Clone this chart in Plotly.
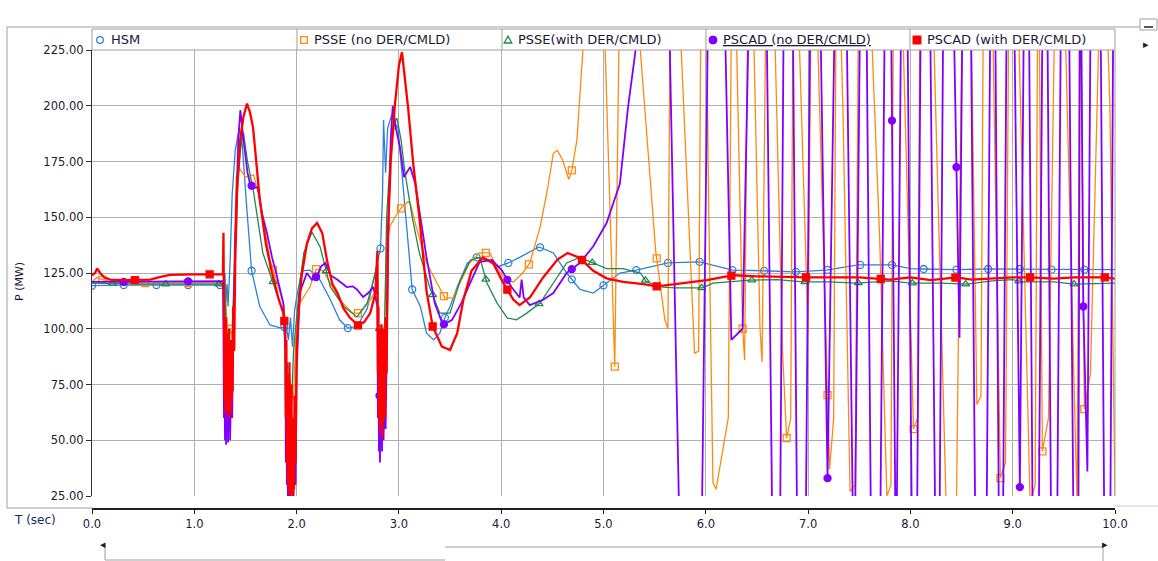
import numpy as np
import plotly.graph_objects as go

# ---------------- data ----------------
hsm_t = [0.0, 0.3, 1.0, 1.28, 1.29, 1.3, 1.31, 1.32, 1.33, 1.35, 1.37, 1.4, 1.44, 1.47, 1.51, 1.56,
         1.64, 1.74, 1.84, 1.9, 1.92, 1.94, 1.96, 1.98, 2.0, 2.05, 2.13, 2.23, 2.33, 2.42, 2.5, 2.59,
         2.69, 2.77, 2.82, 2.84, 2.85, 2.87, 2.89, 2.93, 2.96, 2.99, 3.03, 3.06, 3.13, 3.21, 3.27,
         3.34, 3.4, 3.45, 3.5, 3.57, 3.67, 3.76, 3.86, 3.96, 4.07, 4.18, 4.37, 4.51, 4.64, 4.77, 4.9,
         5.03, 5.16, 5.32, 5.63, 5.94, 6.1, 6.26, 6.56, 6.87, 7.18, 7.35, 7.49, 7.82, 8.0, 8.13, 8.44,
         8.75, 9.07, 9.38, 9.7, 10.0]
hsm_p = [119.3, 119.6, 119.6, 119.6, 115, 125, 112, 120, 110, 130, 160, 180, 190, 182, 156, 126,
         110, 101.7, 100.4, 101, 95, 105, 92, 108, 113.8, 126, 126.3, 121.8, 113, 104, 100.3, 101,
         109, 125, 136, 160, 193.6, 170, 190, 196, 192, 190.5, 170, 153, 117.6, 110, 98,
         95, 98, 105, 110, 118.7, 129.5, 132, 130.8, 127.7, 129.5, 132, 136.7, 134, 125, 117.6, 116,
         120.5, 125, 126.3, 129.5, 130, 128, 126.3, 126, 125.5, 126.3, 127.5, 128.6, 128.6, 127, 126.8, 126.5,
         126.8, 126.8, 126.5, 126.5, 126.5]

psse_no_t = [0.0, 0.05, 0.1, 0.2, 0.5, 1.0, 1.3, 1.31, 1.33, 1.35, 1.37, 1.39, 1.41, 1.44, 1.5, 1.58,
             1.64, 1.74, 1.84, 1.88, 1.9, 1.92, 1.94, 1.97, 1.99, 2.03, 2.13, 2.19, 2.26, 2.33, 2.42,
             2.55, 2.62, 2.72, 2.78, 2.8, 2.83, 2.86, 2.88, 2.91, 2.96, 3.03, 3.09, 3.11, 3.17, 3.27,
             3.37, 3.45, 3.53, 3.61, 3.69, 3.79, 3.89, 3.97, 4.05, 4.12, 4.21, 4.28, 4.38, 4.45, 4.51,
             4.55, 4.6, 4.66, 4.69, 4.74, 4.77, 4.8, 4.88, 4.98, 5.11, 5.16, 5.2, 5.28, 5.36, 5.51,
             5.6, 5.63, 5.66, 5.72, 5.76, 5.89, 5.93, 5.96, 6.0, 6.03, 6.07, 6.1, 6.22, 6.26, 6.3,
             6.36, 6.38, 6.42, 6.46, 6.53, 6.55, 6.6, 6.66, 6.75, 6.79, 6.83, 6.86, 6.92, 7.0, 7.04,
             7.1, 7.21, 7.25, 7.28, 7.34, 7.41, 7.46, 7.5, 7.58, 7.7, 7.77, 7.81, 7.84, 7.9, 8.03,
             8.07, 8.1, 8.2, 8.3, 8.35, 8.45, 8.52, 8.58, 8.65, 8.69, 8.72, 8.8, 8.88, 8.93, 8.97,
             9.05, 9.17, 9.22, 9.25, 9.29, 9.35, 9.43, 9.5, 9.63, 9.66, 9.7, 9.76,
             9.88, 9.95, 10.0]
psse_no_p = [121, 123, 122, 121, 120.5, 120.5, 120.5, 110, 96, 100, 96, 130, 168, 172, 168, 169,
             158, 130.8, 116, 110, 85, 67, 75, 68, 95, 111.5, 118.7, 126.7, 126, 120.5, 113,
             107, 107, 113, 117.6, 100, 95, 102, 135, 145.6, 150, 154.6, 157, 156.4, 145.6, 129.5,
             120.5, 113.8, 114, 121.8, 129.5, 134, 134, 126.3, 121.8, 121, 125, 129.5, 145.6, 162, 178.8,
             180, 175.7, 167, 171, 184.6, 207, 225, 280, 280, 83, 260, 300, 260, 225, 135,
             104, 100, 300, 300, 225, 89, 90, 300, 260, 150, 31, 28, 60, 300, 230,
             100, 86, 300, 250, 100, 85, 300, 260, 90, 51, 60, 300, 220, 98, 300,
             220, 37, 60, 300, 200, 27, 30, 300, 280, 140, 25, 30, 300, 280, 55,
             60, 300, 280, 100, 20, 20, 300, 280, 66, 70, 300, 250, 33, 40, 300,
             250, 22, 30, 300, 45, 60, 300, 260, 20, 300, 64, 80,
             300, 200, 25]

psse_with_t = [0.0, 0.5, 1.0, 1.3, 1.31, 1.32, 1.33, 1.34, 1.35, 1.36, 1.37, 1.39, 1.42, 1.45, 1.48,
               1.52, 1.58, 1.67, 1.77, 1.87, 1.89, 1.9, 1.91, 1.92, 1.93, 1.95, 1.97, 1.99, 2.03, 2.07,
               2.15, 2.23, 2.33, 2.46, 2.59, 2.69, 2.77, 2.79, 2.8, 2.81, 2.82, 2.83, 2.84, 2.86, 2.88,
               2.92, 2.96, 2.98, 3.02, 3.06, 3.13, 3.2, 3.3, 3.4, 3.5, 3.6, 3.7, 3.79, 3.86, 3.96, 4.06,
               4.15, 4.25, 4.38, 4.51, 4.64, 4.77, 4.9, 5.03, 5.19, 5.36, 5.42, 5.58, 5.7, 5.97, 6.07,
               6.43, 6.7, 6.95, 7.2, 7.48, 7.8, 8.0, 8.3, 8.55, 8.8, 9.0, 9.1, 9.4, 9.61, 9.9, 10.0]
psse_with_p = [120.5, 120, 120, 120, 100, 80, 95, 75, 90, 78, 95, 120, 160, 180, 188,
               175, 161, 134, 121, 107, 90, 70, 85, 63, 80, 65, 90, 100, 120, 134,
               143.4, 136.7, 118.7, 110, 105.3, 111.5, 125, 130, 85, 100, 70, 95, 75, 100, 150,
               180, 193, 194.5, 185, 169.8, 150, 134, 118.7, 107, 107, 121.8, 130.8, 132, 120.5, 111.5, 104.8,
               104, 107, 111.5, 120.5, 129.5, 132, 129.5, 127, 127, 125, 121, 118.7, 118.3, 118.3, 120.5,
               121.8, 122, 121, 121, 120.5, 121.5, 120.5, 120.5, 120, 121.5, 122, 121, 121, 120, 120.5, 120.5]

pscad_no_t = [0.0, 0.5, 1.0, 1.28, 1.285, 1.29, 1.295, 1.3, 1.305, 1.31, 1.315, 1.32, 1.325, 1.33,
              1.335, 1.34, 1.345, 1.35, 1.36, 1.37, 1.38, 1.4, 1.43, 1.45, 1.48, 1.52, 1.545, 1.58,
              1.62, 1.66, 1.71, 1.76, 1.8, 1.87, 1.89, 1.895, 1.9, 1.905, 1.91, 1.915, 1.92, 1.925,
              1.93, 1.935, 1.94, 1.945, 1.95, 1.955, 1.96, 1.97, 1.98, 1.99, 2.0, 2.03, 2.1, 2.15, 2.2,
              2.24, 2.28, 2.33, 2.4, 2.45, 2.49, 2.55, 2.59, 2.65, 2.7, 2.75, 2.79, 2.795, 2.8, 2.805,
              2.81, 2.815, 2.82, 2.825, 2.83, 2.835, 2.84, 2.85, 2.86, 2.87, 2.88, 2.9, 2.92, 2.94, 2.97,
              3.01, 3.05, 3.08, 3.11, 3.16, 3.21, 3.27, 3.35, 3.43, 3.52, 3.61, 3.71, 3.79, 3.91, 4.01,
              4.1, 4.18, 4.2, 4.22, 4.28, 4.41, 4.51, 4.64, 4.77, 4.9, 5.03, 5.16, 5.24, 5.31, 5.45,
              5.62, 5.76, 5.95, 6.04, 6.16, 6.25, 6.36, 6.45, 6.58, 6.66, 6.72, 6.77, 6.84, 6.9, 6.97,
              7.03, 7.1, 7.19, 7.28, 7.36, 7.45, 7.52, 7.56, 7.62, 7.7, 7.76, 7.8, 7.86, 7.92, 7.96,
              8.02, 8.06, 8.11, 8.18, 8.25, 8.28, 8.33, 8.4, 8.48, 8.52, 8.58, 8.64, 8.74, 8.79, 8.82,
              8.87, 8.9, 8.95, 9.0, 9.07, 9.12, 9.15, 9.2, 9.25, 9.3, 9.33, 9.38, 9.43, 9.48, 9.54,
              9.6, 9.64, 9.66, 9.69, 9.73, 9.77, 9.85, 9.9, 9.95, 9.99, 10.0]
pscad_no_p = [121, 121, 121.3, 121.3, 100, 60, 80, 50, 75, 48, 70, 52, 78, 49,
              72, 55, 80, 50, 75, 60, 95, 140, 185, 198, 185, 170, 165, 163,
              163.5, 152, 143, 132, 125, 111.5, 90, 40, 70, 30, 55, 25, 45, 22,
              40, 20, 35, 22, 40, 20, 30, 24, 45, 30, 80, 116, 125, 122, 123.5,
              128, 129.5, 124, 122, 120, 118.7, 119, 117.6, 114.2, 116, 118.7, 110, 60, 80, 45,
              70, 40, 65, 48, 75, 45, 70, 50, 77, 55, 90, 150, 185, 200, 190,
              181.5, 168, 170, 172.6, 165, 150, 132, 111.5, 101.7, 104, 111.5, 121.9, 130, 130.8, 126,
              118.7, 114, 122, 114, 110.6, 113, 116, 125, 129.5, 137, 147.4, 165, 199.4, 223.6, 300,
              290, -30, -30, 310, 300, 95, 100, 310, 300, -30, -30, 300, 300, -30, -30,
              300, 300, 33, 300, 300, -30, 300, 300, -20, -20, 300, 300, -20, 300, 300,
              -20, -20, 300, 300, -20, -20, 300, 300, 96, 300, 300, -20, -20, 300, 300,
              -20, -20, 300, 300, 29, 300, 300, -20, -20, 300, 300, -20, -20, 300, 300,
              -20, -20, 300, 110, 36, 300, 300, -20, -20, 300, 300]

pscad_with_t = [0.0, 0.03, 0.05, 0.08, 0.12, 0.18, 0.3, 0.45, 0.57, 0.65, 0.76, 1.0, 1.28, 1.285,
                1.29, 1.295, 1.3, 1.305, 1.31, 1.315, 1.32, 1.325, 1.33, 1.335, 1.34, 1.345, 1.35,
                1.355, 1.36, 1.365, 1.37, 1.375, 1.38, 1.39, 1.4, 1.42, 1.45, 1.48, 1.515, 1.545, 1.575,
                1.61, 1.64, 1.7, 1.76, 1.82, 1.87, 1.89, 1.895, 1.9, 1.905, 1.91, 1.915, 1.92, 1.925,
                1.93, 1.935, 1.94, 1.945, 1.95, 1.955, 1.96, 1.965, 1.97, 1.975, 1.98, 1.99, 2.0, 2.02,
                2.05, 2.1, 2.15, 2.2, 2.25, 2.3, 2.35, 2.4, 2.46, 2.52, 2.6, 2.66, 2.72, 2.77, 2.79,
                2.795, 2.8, 2.805, 2.81, 2.815, 2.82, 2.825, 2.83, 2.835, 2.84, 2.845, 2.85, 2.855, 2.86,
                2.865, 2.87, 2.88, 2.89, 2.92, 2.96, 3.0, 3.03, 3.06, 3.09, 3.14, 3.2, 3.27, 3.33, 3.42,
                3.5, 3.57, 3.63, 3.71, 3.82, 3.92, 4.02, 4.12, 4.18, 4.28, 4.41, 4.55, 4.65, 4.77, 4.9,
                5.03, 5.19, 5.39, 5.52, 5.7, 6.01, 6.27, 6.5, 6.99, 7.3, 7.5, 7.8, 8.0, 8.2, 8.45, 8.6,
                8.8, 9.0, 9.17, 9.4, 9.6, 9.9, 10.0]
pscad_with_p = [124, 125, 127, 125, 123, 122, 121.8, 121.8, 122, 123, 124.2, 124.4, 124.4, 143,
                100, 70, 95, 62, 105, 75, 98, 65, 90, 60, 100, 70, 95,
                62, 85, 68, 95, 72, 110, 90, 130, 165, 185, 195, 201, 197, 190,
                172, 158, 138, 125, 114, 107, 100, 60, 95, 40, 80, 30, 70, 26,
                85, 35, 65, 25, 75, 30, 60, 25, 55, 28, 70, 40, 90, 108,
                124, 138, 145, 147.4, 143, 130, 120, 116, 109, 105, 101.5, 103, 107, 116, 135,
                80, 110, 60, 100, 55, 95, 60, 102, 51, 90, 58, 100, 65, 95,
                60, 105, 80, 140, 175, 200, 218, 224, 212, 199, 174, 150, 117, 101, 92,
                90.5, 98, 113, 126, 132, 129.5, 120.5, 113, 110.6, 114, 123, 131, 134, 131.7, 126,
                122.6, 121, 120, 119, 120, 121.8, 124, 123.5, 123, 123, 123, 122, 123, 121.8, 123, 122,
                122.5, 123, 123, 122.5, 123, 123, 122.5]

# marker times
hsm_mk = [0.0, 0.31, 0.63, 0.94, 1.25, 1.56, 1.88, 2.19, 2.5, 2.82, 3.13, 3.45, 3.76, 4.07, 4.38,
          4.69, 5.0, 5.32, 5.63, 5.94, 6.26, 6.57, 6.88, 7.19, 7.51, 7.82, 8.13, 8.45, 8.76, 9.07,
          9.38, 9.7]
psse_no_mk = [0.1, 0.52, 0.94, 1.35, 1.77, 2.19, 2.6, 3.02, 3.44, 3.85, 4.27, 4.69, 5.11, 5.52,
              6.36, 6.79, 7.19, 8.03, 8.88, 9.29, 9.7]
psse_with_mk = [0.2, 0.72, 1.24, 1.77, 2.29, 2.81, 3.33, 3.85, 4.37, 4.89, 5.41, 5.96, 6.45, 6.97,
                7.49, 8.02, 8.54, 9.06, 9.6]
pscad_no_mk = [0.31, 0.94, 1.56, 2.19, 2.81, 3.44, 4.06, 4.69, 7.19, 7.82, 8.45, 9.07, 9.69]
pscad_with_mk = [0.42, 1.15, 1.88, 2.6, 3.33, 4.06, 4.79, 5.52, 6.25, 6.98, 7.71, 8.44, 9.17, 9.9]

names = ["HSM", "PSSE (no DER/CMLD)", "PSSE (with DER/CMLD)", "PSCAD (no DER/CMLD)",
         "PSCAD (with DER/CMLD)"]
y_ticks = [25, 50, 75, 100, 125, 150, 175, 200, 225]
x_ticks = [0, 1, 2, 3, 4, 5, 6, 7, 8, 9, 10]

# ---------------- styling ----------------
W, H = 1158, 561
L, R, T, B = 92, 1115, 50, 509   # plotting paper region in pixels
FONT = "DejaVu Sans"
TXT = "#1a1a36"
GRID = "#b0b0b0"

series = [
    (hsm_t, hsm_p, hsm_mk, "#2f80d8", "circle-open", 1.3),
    (psse_no_t, psse_no_p, psse_no_mk, "#ff8a10", "square-open", 1.3),
    (psse_with_t, psse_with_p, psse_with_mk, "#1f8a4c", "triangle-up-open", 1.3),
    (pscad_no_t, pscad_no_p, pscad_no_mk, "#8000ff", "circle", 1.8),
    (pscad_with_t, pscad_with_p, pscad_with_mk, "#ff0000", "square", 2.3),
]

fig = go.Figure()
for (t, p, mk, col, sym, lw), nm in zip(series, names):
    fig.add_trace(go.Scatter(x=t, y=p, mode="lines", name=nm,
                             line=dict(color=col, width=lw), showlegend=False,
                             hoverinfo="skip"))
    fig.add_trace(go.Scatter(x=mk, y=np.interp(mk, t, p), mode="markers", name=nm,
                             marker=dict(symbol=sym, size=7, color=col,
                                         line=dict(color=col, width=1.3)),
                             showlegend=False, hoverinfo="skip", cliponaxis=True))


def px(x):
    return (x - L) / (R - L)


def py(y):
    return (B - y) / (B - T)


shapes = []


def line(x0, y0, x1, y1, color="#a0a0a0", width=1):
    shapes.append(dict(type="line", xref="paper", yref="paper", x0=px(x0), y0=py(y0),
                       x1=px(x1), y1=py(y1), line=dict(color=color, width=width)))


# outer frame
line(7, 27, 1140, 27)
line(7, 27, 7, 508)
line(7, 508, 92, 508)
line(1115, 506, 1158, 506, color="#d0d0d0")
# top-right widget
shapes.append(dict(type="rect", xref="paper", yref="paper", x0=px(1140), y0=py(30), x1=px(1157),
                   y1=py(19), line=dict(color="#a0a0a0", width=1), fillcolor="white"))
line(1144, 27, 1153, 27, color="#202020", width=1.5)
# legend boxes
shapes.append(dict(type="rect", xref="paper", yref="paper", x0=px(92), y0=py(50), x1=px(1115),
                   y1=py(29), line=dict(color="#a0a0a0", width=1)))
for xs in [297, 502, 706, 910]:
    line(xs, 29, xs, 50)
# right border of plot area
line(1115, 50, 1115, 496)
# scrollbar
line(445, 547, 1103, 547, color="#a0a0a0")
line(105, 560, 445, 560, color="#a0a0a0")
line(105, 547, 105, 560, color="#a0a0a0")
line(1103, 547, 1103, 561, color="#a0a0a0")

# legend symbols
lx = [100, 304, 508, 713, 917]
ly = 40
r = 3.3
shapes.append(dict(type="circle", xref="paper", yref="paper", x0=px(lx[0] - r), x1=px(lx[0] + r),
                   y0=py(ly + r), y1=py(ly - r), line=dict(color="#2f80d8", width=1.3)))
shapes.append(dict(type="rect", xref="paper", yref="paper", x0=px(lx[1] - r), x1=px(lx[1] + r),
                   y0=py(ly + r), y1=py(ly - r), line=dict(color="#ff8a10", width=1.3)))
shapes.append(dict(type="path", xref="paper", yref="paper",
                   path="M %f,%f L %f,%f L %f,%f Z" % (px(lx[2] - 3.8), py(ly + 3), px(lx[2] + 3.8),
                                                     py(ly + 3), px(lx[2]), py(ly - 3.8)),
                   line=dict(color="#1f8a4c", width=1.3)))
shapes.append(dict(type="circle", xref="paper", yref="paper", x0=px(lx[3] - 4), x1=px(lx[3] + 4),
                   y0=py(ly + 4), y1=py(ly - 4), line=dict(color="#8000ff", width=1),
                   fillcolor="#8000ff"))
shapes.append(dict(type="rect", xref="paper", yref="paper", x0=px(lx[4] - 4), x1=px(lx[4] + 4),
                   y0=py(ly + 4), y1=py(ly - 4), line=dict(color="#ff0000", width=1),
                   fillcolor="#ff0000"))

annotations = []
legend_text = ["HSM", "PSSE (no DER/CMLD)", "PSSE(with DER/CMLD)", "<u>PSCAD (no DER/CMLD)</u>",
               "PSCAD (with DER/CMLD)"]
for x0, txt in zip([109, 312, 516, 721, 925], legend_text):
    annotations.append(dict(xref="paper", yref="paper", x=px(x0), y=py(40), text=txt,
                            showarrow=False, xanchor="left", yanchor="middle",
                            font=dict(family=FONT, size=13, color=TXT)))
annotations.append(dict(xref="paper", yref="paper", x=px(12), y=py(520), text="T (sec)",
                        showarrow=False, xanchor="left", yanchor="middle",
                        font=dict(family=FONT, size=12, color="#1a2a5a")))
annotations.append(dict(xref="paper", yref="paper", x=px(19), y=py(282), text="P (MW)",
                        showarrow=False, textangle=-90, xanchor="center", yanchor="middle",
                        font=dict(family=FONT, size=11, color=TXT)))
annotations.append(dict(xref="paper", yref="paper", x=px(98), y=py(553), text="◂",
                        showarrow=False, font=dict(family=FONT, size=11, color="#202020")))
annotations.append(dict(xref="paper", yref="paper", x=px(1110), y=py(553), text="▸",
                        showarrow=False, font=dict(family=FONT, size=11, color="#202020")))
annotations.append(dict(xref="paper", yref="paper", x=px(1151), y=py(36), text="▸",
                        showarrow=False, font=dict(family=FONT, size=11, color="#202020")))

fig.update_layout(
    template="none",
    width=W, height=H,
    margin=dict(l=L, r=W - R, t=T, b=H - B, pad=0),
    paper_bgcolor="white", plot_bgcolor="white",
    showlegend=False,
    shapes=shapes, annotations=annotations,
    xaxis=dict(range=[0, 10], tickvals=x_ticks, tickformat=".1f", anchor="free", position=0,
               showgrid=True, gridcolor=GRID, gridwidth=1.2, zeroline=False,
               showline=True, linecolor="#202020", linewidth=1.5,
               ticks="outside", ticklen=4, tickcolor="#202020",
               tickfont=dict(family=FONT, size=11.5, color=TXT), automargin=False),
    yaxis=dict(range=[25, 225], tickvals=y_ticks, tickformat=".2f",
               domain=[(B - 496) / (B - T), 1],
               showgrid=True, gridcolor=GRID, gridwidth=1.2, zeroline=False,
               showline=True, linecolor="#303030", linewidth=1.2,
               ticks="outside", ticklen=5, tickcolor="#303030",
               tickfont=dict(family=FONT, size=11.5, color=TXT), automargin=False),
)

fig.write_html("out.html")
